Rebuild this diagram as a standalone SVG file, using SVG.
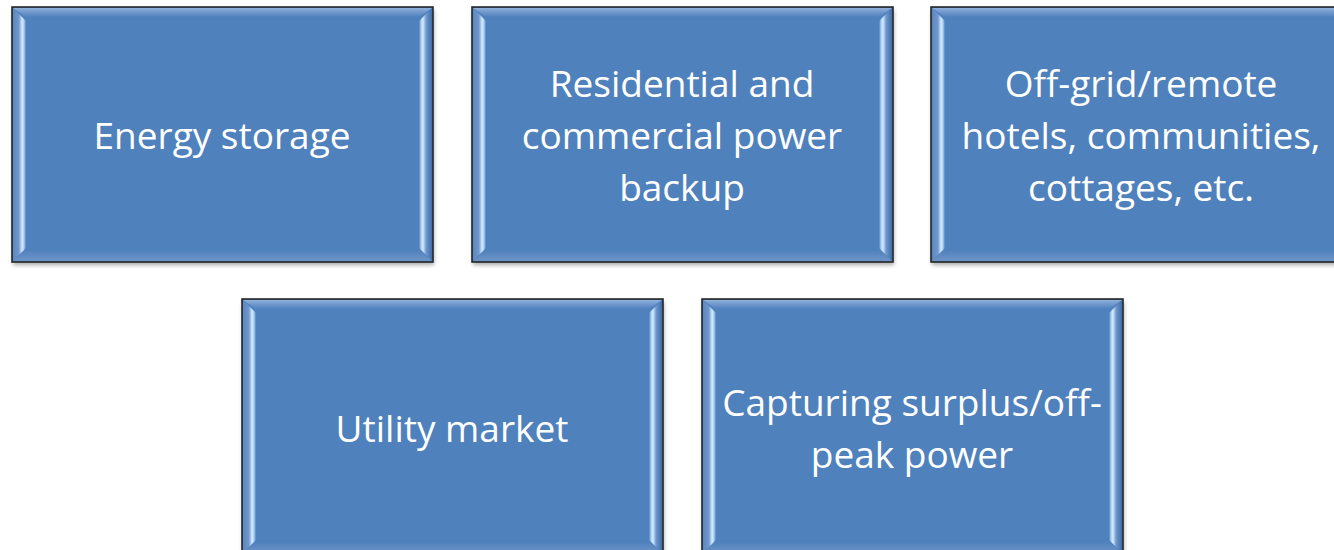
<svg xmlns="http://www.w3.org/2000/svg" xmlns:xlink="http://www.w3.org/1999/xlink" width="1334" height="550" viewBox="0 0 1334 550">
<style>
.t{font-family:"Open Sans","Noto Sans","Liberation Sans",sans-serif;font-size:37px;fill:#ffffff;text-anchor:middle}
</style>
<defs>
<linearGradient id="lg" x1="0" y1="0" x2="1" y2="0">
<stop offset="0" stop-color="#5b87c0"/>
<stop offset="0.45" stop-color="#6f97cc"/>
<stop offset="0.7" stop-color="#d6ecff"/>
<stop offset="0.85" stop-color="#a8cdf5"/>
<stop offset="1" stop-color="#4f81bd"/>
</linearGradient>
<linearGradient id="rg" x1="1" y1="0" x2="0" y2="0">
<stop offset="0" stop-color="#3f6ea8"/>
<stop offset="0.45" stop-color="#6f97cc"/>
<stop offset="0.7" stop-color="#d6ecff"/>
<stop offset="0.85" stop-color="#a8cdf5"/>
<stop offset="1" stop-color="#4f81bd"/>
</linearGradient>
<linearGradient id="tg" x1="0" y1="0" x2="0" y2="1">
<stop offset="0" stop-color="#8fb0da"/>
<stop offset="0.5" stop-color="#6f97cc"/>
<stop offset="1" stop-color="#4f81bd"/>
</linearGradient>
<linearGradient id="bg" x1="0" y1="1" x2="0" y2="0">
<stop offset="0" stop-color="#6e94c6"/>
<stop offset="1" stop-color="#4f81bd"/>
</linearGradient>
<filter id="sh" x="-5%" y="-5%" width="110%" height="115%">
<feGaussianBlur in="SourceAlpha" stdDeviation="2"/>
<feOffset dx="1" dy="3" result="b"/>
<feComponentTransfer><feFuncA type="linear" slope="0.35"/></feComponentTransfer>
<feMerge><feMergeNode/><feMergeNode in="SourceGraphic"/></feMerge>
</filter>
<symbol id="box" viewBox="0 0 421 255" width="421" height="255" overflow="visible">
<rect x="0" y="0" width="421" height="255" fill="#4f81bd" filter="url(#sh)"/>
<polygon points="1,1 420,1 407,10 14,10" fill="url(#tg)"/>
<polygon points="1,254 420,254 407,243 14,243" fill="url(#bg)"/>
<polygon points="1,1 14,14 14,241 1,254" fill="url(#lg)"/>
<polygon points="420,1 407,14 407,241 420,254" fill="url(#rg)"/>
<rect x="0" y="0" width="421" height="255" fill="none" stroke="#262626" stroke-width="1.6"/>
</symbol>
</defs>
<rect width="1334" height="550" fill="#ffffff"/>
<g id="connectors"></g>
<g id="node-energy-storage">
<use xlink:href="#box" x="12" y="7"/>
<text class="t" x="222" y="149">Energy storage</text>
</g>
<g id="node-residential">
<use xlink:href="#box" x="472" y="7"/>
<text class="t" x="682" y="97">Residential and</text>
<text class="t" x="682" y="149">commercial power</text>
<text class="t" x="682" y="201">backup</text>
</g>
<g id="node-offgrid">
<use xlink:href="#box" x="931" y="7"/>
<text class="t" x="1141" y="97">Off-grid/remote</text>
<text class="t" x="1141" y="149">hotels, communities,</text>
<text class="t" x="1141" y="201">cottages, etc.</text>
</g>
<g id="node-utility">
<use xlink:href="#box" x="242" y="299"/>
<text class="t" x="452" y="442">Utility market</text>
</g>
<g id="node-capturing">
<use xlink:href="#box" x="702" y="299"/>
<text class="t" x="912" y="416">Capturing surplus/off-</text>
<text class="t" x="912" y="468">peak power</text>
</g>
</svg>
